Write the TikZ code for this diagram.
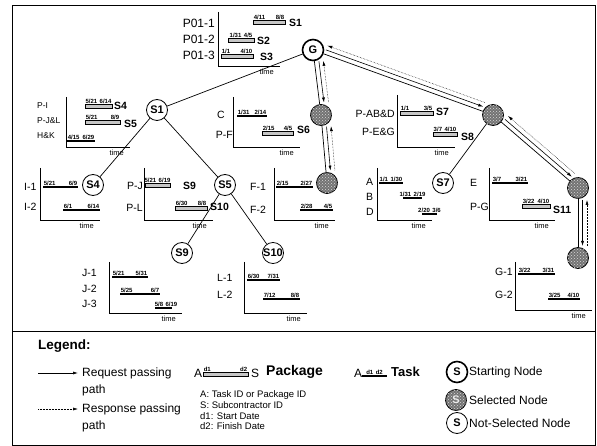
\documentclass[tikz,border=0pt]{standalone}
\usepackage{fontspec}
\setmainfont{Liberation Sans}
\usetikzlibrary{calc, arrows.meta, patterns, positioning}

\tikzset{
  nd/.style={circle, draw, line width=0.8pt, minimum size=21pt, inner sep=0pt,
    font=\bfseries\fontsize{11}{11}\selectfont},
  startnd/.style={nd, line width=1.6pt},
  selnd/.style={nd, fill=black!55, postaction={pattern=crosshatch dots, pattern color=gray!30}},
  edge/.style={line width=0.7pt},
  lab/.style={font=\fontsize{10.5}{10.5}\selectfont, inner sep=0pt},
  biglab/.style={font=\fontsize{12}{12}\selectfont, inner sep=0pt, anchor=east},
  smlab/.style={font=\fontsize{8.5}{8.5}\selectfont, inner sep=0pt, anchor=west},
  sid/.style={font=\bfseries\fontsize{10.5}{10.5}\selectfont, inner sep=0pt, anchor=west},
  dt/.style={font=\bfseries\fontsize{6}{6}\selectfont, inner sep=0.6pt},
  tl/.style={font=\fontsize{7.5}{7.5}\selectfont, inner sep=0pt, anchor=north east},
  pkg/.style={draw, line width=0.6pt, fill=gray!45},
  task/.style={line width=1.3pt},
  ax/.style={line width=0.6pt},
  req/.style={-{Latex[length=5pt,width=3pt]}, line width=0.6pt},
  resp/.style={-{Latex[length=5pt,width=3pt]}, densely dotted, line width=0.5pt},
  leg/.style={font=\fontsize{12}{12}\selectfont, inner sep=0pt, anchor=west},
  legbf/.style={font=\bfseries\fontsize{13}{13}\selectfont, inner sep=0pt, anchor=west},
  note/.style={font=\fontsize{9.5}{9.5}\selectfont, inner sep=0pt, anchor=west},
}

% dates over a bar: x1, x2, y, start date, finish date
\newcommand{\Dates}[5]{%
  \pgfmathtruncatemacro\dwide{(#2-#1)>=28}%
  \ifnum\dwide=1
    \node[dt, anchor=south west] at (#1,#3) {#4};
    \node[dt, anchor=south east] at (#2,#3) {#5};
  \else
    \node[dt, anchor=south] at ({(#1+#2)/2},#3) {#4\hspace{2.5pt}#5};
  \fi}
% package bar
\newcommand{\Pbar}[5]{%
  \draw[pkg] (#1,#3-2) rectangle (#2,#3+2);
  \Dates{#1}{#2}{#3-2}{#4}{#5}}
% task bar
\newcommand{\Tbar}[5]{%
  \draw[task] (#1,#3) -- (#2,#3);
  \Dates{#1}{#2}{#3-0.7}{#4}{#5}}
% chart axes: x, top, bottom, right
\newcommand{\Axes}[4]{%
  \draw[ax] (#1,#2) |- (#4,#3);
  \node[tl] at (#4-6,#3+3) {time};}
% request / response arrows beside an edge
\newcommand{\Flow}[2]{%
  \draw[req, shorten <=12pt, shorten >=12pt] ($(#1)!4.5pt!90:(#2)$) -- ($(#2)!4.5pt!-90:(#1)$);
  \draw[resp, shorten <=12pt, shorten >=12pt] ($(#2)!9pt!-90:(#1)$) -- ($(#1)!9pt!90:(#2)$);}

\begin{document}
\begin{tikzpicture}[x=1pt, y=-1pt]
    \useasboundingbox (0,0) rectangle (597,446);

    % 1. Frame and legend divider
    \draw[line width=0.8pt] (12,5) rectangle (595,445);
    \draw[line width=0.8pt] (12,331) -- (595,331);

    % 2. Search tree nodes
    \node[startnd] (G) at (313,50) {G};
    \node[nd] (S1) at (157,110) {S1};
    \node[nd] (S4) at (93,185) {S4};
    \node[nd] (S5) at (225,185) {S5};
    \node[nd] (S9) at (182,253) {S9};
    \node[nd] (S10) at (273,253) {S10};
    \node[nd] (S7) at (443,183) {S7};
    \node[selnd] (S6) at (321,115) {};
    \node[selnd] (S6f) at (327,183) {};
    \node[selnd] (S8) at (493,115) {};
    \node[selnd] (S11) at (578,188) {};
    \node[selnd] (S11g) at (578,258) {};

    \foreach \a/\b in {G/S1, S1/S4, S1/S5, S5/S9, S5/S10, G/S6, S6/S6f, G/S8, S8/S7, S8/S11, S11/S11g}
        \draw[edge] (\a) -- (\b);

    % request and response passing paths
    \foreach \a/\b in {G/S6, S6/S6f, G/S8, S8/S11, S11/S11g}
        \Flow{\a}{\b};

    % 3. Schedules (package bars and task bars)
    % P01
    \foreach \t/\y in {P01-1/23, P01-2/39, P01-3/55}
        \node[biglab] at (215,\y) {\t};
    \Axes{218}{12}{66}{280}
    \Pbar{253}{285}{22}{4/11}{8/8}
    \node[sid] at (289,23) {S1};
    \Pbar{228}{254}{40}{1/31}{4/5}
    \node[sid] at (257,41) {S2};
    \Pbar{221}{253}{56}{1/1}{4/10}
    \node[sid] at (260,57) {S3};

    % S1
    \foreach \t/\y in {P-I/106, P-J\&L/121, H\&K/136}
        \node[smlab] at (37,\y) {\t};
    \Axes{66}{97}{147}{130}
    \Pbar{85}{112}{106}{5/21}{6/14}
    \node[sid] at (114,106) {S4};
    \Pbar{85}{120}{122}{5/21}{8/9}
    \node[sid] at (124,124) {S5};
    \Tbar{67}{95}{141}{4/15}{6/29}

    % S6
    \node[lab, anchor=west] at (217,115) {C};
    \node[lab, anchor=east] at (233,135) {P-F};
    \Axes{233}{97}{147}{300}
    \Tbar{237}{267}{116}{1/31}{2/14}
    \Pbar{262}{293}{133}{2/15}{4/5}
    \node[sid] at (297,130) {S6};

    % S8
    \node[lab, anchor=east] at (395,114) {P-AB\&D};
    \node[lab, anchor=east] at (395,132) {P-E\&G};
    \Axes{397}{95}{147}{455}
    \Pbar{400}{433}{113}{1/1}{3/5}
    \node[sid] at (436,112) {S7};
    \Pbar{433}{457}{134}{3/7}{4/10}
    \node[sid] at (461,137) {S8};

    % S4
    \foreach \t/\y in {I-1/187, I-2/207}
        \node[lab, anchor=west] at (24,\y) {\t};
    \Axes{40}{168}{220}{100}
    \Tbar{43}{78}{187}{5/21}{6/9}
    \Tbar{63}{100}{210}{6/1}{6/14}

    % S5
    \node[lab, anchor=east] at (143,186) {P-J};
    \node[lab, anchor=east] at (143,208) {P-L};
    \Axes{144}{168}{220}{213}
    \Pbar{145}{170}{185}{5/21}{6/19}
    \node[sid] at (183,186) {S9};
    \Pbar{175}{207}{208}{6/30}{8/8}
    \node[sid] at (210,207) {S10};

    % F
    \foreach \t/\y in {F-1/187, F-2/210}
        \node[lab, anchor=west] at (250,\y) {\t};
    \Axes{274}{168}{220}{335}
    \Tbar{276}{313}{187}{2/15}{2/27}
    \Tbar{300}{333}{210}{2/28}{4/5}

    % S7
    \foreach \t/\y in {A/182, B/197, D/212}
        \node[lab, anchor=west] at (366,\y) {\t};
    \Axes{377}{168}{220}{432}
    \Tbar{379}{403}{183}{1/1}{1/30}
    \Tbar{403}{422}{198}{1/31}{2/19}
    \Tbar{422}{437}{214}{2/20}{3/6}

    % S11
    \node[lab, anchor=west] at (470,183) {E};
    \node[lab, anchor=east] at (489,207) {P-G};
    \Axes{489}{168}{220}{555}
    \Tbar{492}{528}{183}{3/7}{3/21}
    \Pbar{522}{550}{206}{3/22}{4/10}
    \node[sid] at (553,210) {S11};

    % S9
    \foreach \t/\y in {J-1/273, J-2/289, J-3/304}
        \node[lab, anchor=west] at (82,\y) {\t};
    \Axes{109}{262}{313}{182}
    \Tbar{112}{148}{277}{5/21}{5/31}
    \Tbar{120}{160}{294}{5/25}{6/7}
    \draw[task] (155,308) -- (172,308);
    \node[dt, anchor=south west] at (154,307.3) {5/8\hspace{2.5pt}6/19};

    % S10
    \foreach \t/\y in {L-1/278, L-2/295}
        \node[lab, anchor=west] at (217,\y) {\t};
    \Axes{244}{262}{313}{307}
    \Tbar{247}{280}{280}{6/30}{7/31}
    \Tbar{263}{300}{299}{7/12}{8/8}

    % G
    \foreach \t/\y in {G-1/272, G-2/295}
        \node[lab, anchor=west] at (495,\y) {\t};
    \Axes{515}{262}{310}{592}
    \Tbar{518}{555}{274}{3/22}{3/31}
    \Tbar{548}{580}{299}{3/25}{4/10}

    % 4. Legend
    \node[legbf, font=\bfseries\fontsize{13.5}{13.5}\selectfont] (leg) at (38,346) {Legend:};

    \coordinate (rqa) at (38,373);
    \coordinate (rqb) at (78,373);
    \draw[req] (rqa) -- (rqb);
    \node[leg] (rq) at (82,373) {Request passing};
    \node[leg] (rqp) at (82,390) {path};
    \coordinate (rsa) at (38,409);
    \coordinate (rsb) at (78,409);
    \draw[resp] (rsa) -- (rsb);
    \node[leg] (rs) at (82,409) {Response passing};
    \node[leg] (rsp) at (82,426) {path};

    \node[leg] (pa) at (194,373) {A};
    \Pbar{203}{248}{374}{d1}{d2}
    \node[leg] (ps) at (251,373) {S};
    \node[legbf, font=\bfseries\fontsize{14}{14}\selectfont] (pk) at (266,372) {Package};
    \node[leg] (ta) at (354,373) {A};
    \Tbar{362}{387}{376}{d1}{d2}
    \node[legbf] (tk) at (391,372) {Task};

    \node[note] (n1) at (200,395) {A: Task ID or Package ID};
    \node[note] (n2) at (200,405.5) {S: Subcontractor ID};
    \node[note] (n3) at (200,416) {d1: Start Date};
    \node[note] (n4) at (200,426.5) {d2: Finish Date};

    \node[startnd] (ls) at (457,372) {S};
    \node[leg] at (469,372) {Starting Node};
    \node[selnd, text=gray!15] (lsel) at (456,400) {S};
    \node[leg] at (469,400) {Selected Node};
    \node[nd] (lns) at (457,423) {S};
    \node[leg] at (469,423) {Not-Selected Node};
\end{tikzpicture}
\end{document}
